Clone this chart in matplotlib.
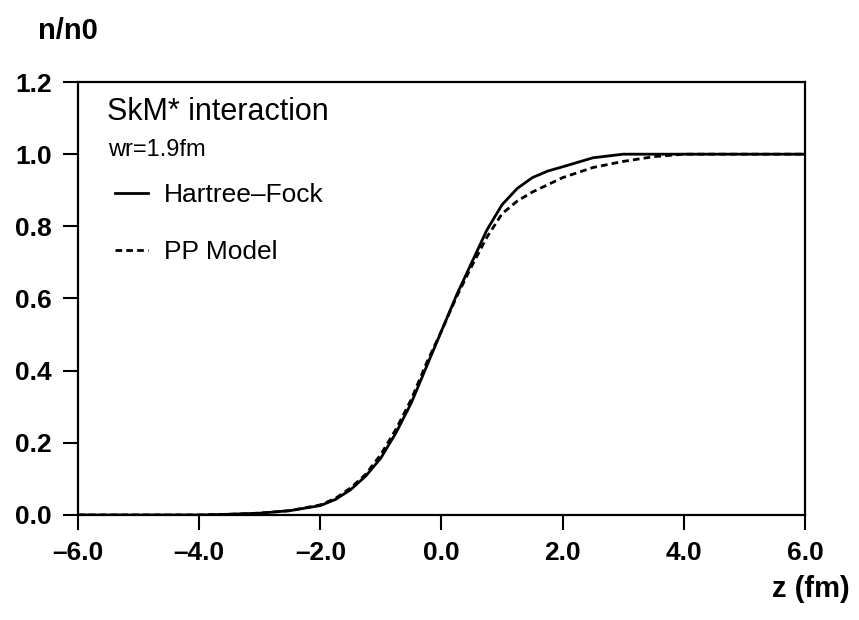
import numpy as np
import matplotlib
matplotlib.use("Agg")
import matplotlib.pyplot as plt
from matplotlib.ticker import FuncFormatter

plt.rcParams["font.family"] = ["Liberation Sans", "DejaVu Sans"]

# ---------- data ----------
z = [-6.0, -4.0, -3.5, -3.0, -2.5, -2.0, -1.75, -1.5, -1.25, -1.0, -0.75,
     -0.5, -0.25, 0.0, 0.25, 0.5, 0.75, 1.0, 1.25, 1.5, 1.75, 2.0, 2.5,
     3.0, 3.5, 4.0, 5.0, 6.0]
hf = [0.0, 0.0, 0.002, 0.005, 0.012, 0.026, 0.043, 0.07, 0.108, 0.158,
      0.228, 0.31, 0.41, 0.51, 0.61, 0.70, 0.79, 0.86, 0.905, 0.935,
      0.953, 0.965, 0.99, 1.0, 1.0, 1.0, 1.0, 1.0]
pp = [0.0, 0.0, 0.002, 0.005, 0.012, 0.028, 0.046, 0.075, 0.113, 0.168,
      0.238, 0.32, 0.42, 0.51, 0.605, 0.69, 0.77, 0.835, 0.87, 0.895,
      0.915, 0.935, 0.963, 0.98, 0.993, 1.0, 1.0, 1.0]

xticks = [-6, -4, -2, 0, 2, 4, 6]
yticks = [0.0, 0.2, 0.4, 0.6, 0.8, 1.0, 1.2]


def fmt(v, pos):
    # the scanned figure uses a long dash for the minus sign
    return ("%.1f" % v).replace("-", "\u2013")


# ---------- plot ----------
fig = plt.figure(figsize=(8.59, 6.2), dpi=100)
ax = fig.add_axes([0.0908, 0.1694, 0.8463, 0.6983])

ax.plot(z, hf, color="black", lw=2.0, label="Hartree\u2013Fock")
ax.plot(z, pp, color="black", lw=2.0, linestyle=(0, (2.4, 1.5)), label="PP Model")

ax.set_xlim(-6, 6)
ax.set_ylim(0, 1.2)
ax.set_xticks(xticks)
ax.set_yticks(yticks)
ax.xaxis.set_major_formatter(FuncFormatter(fmt))
ax.yaxis.set_major_formatter(FuncFormatter(fmt))
ax.tick_params(direction="out", length=11, width=1.5, labelsize=19)
ax.tick_params(axis="x", pad=8)
ax.tick_params(axis="y", pad=8)
for lab in ax.get_xticklabels() + ax.get_yticklabels():
    lab.set_fontweight("bold")
for sp in ax.spines.values():
    sp.set_linewidth(1.6)

ax.text(0.040, 0.931, "SkM* interaction", fontsize=22, va="center", ha="left",
        transform=ax.transAxes)
ax.text(0.041, 0.843, "wr=1.9fm", fontsize=17, va="center", ha="left",
        transform=ax.transAxes)

ax.legend(loc="upper left", bbox_to_anchor=(0.051, 0.767), frameon=False,
          fontsize=19, handlelength=1.25, handletextpad=0.6,
          labelspacing=1.25, borderaxespad=0, borderpad=0)

fig.text(0.044, 0.95, "n/n0", fontsize=21, fontweight="bold", va="center", ha="left")
fig.text(0.9895, 0.05, "z (fm)", fontsize=21, fontweight="bold", va="center", ha="right")

fig.savefig("out.png", dpi=100)
